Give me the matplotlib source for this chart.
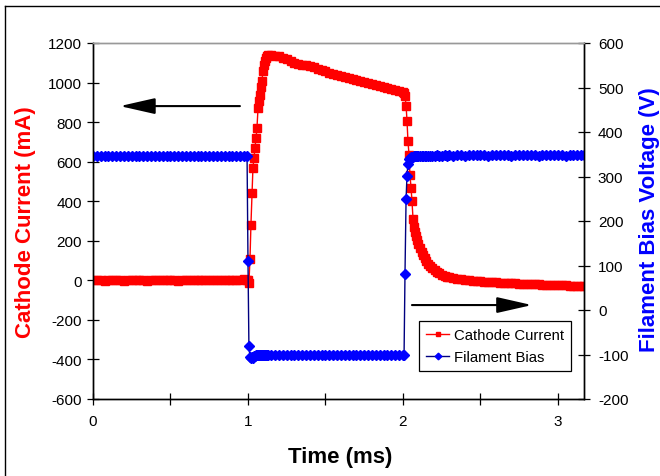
import matplotlib
matplotlib.use("Agg")
import matplotlib.pyplot as plt
from matplotlib.lines import Line2D
from matplotlib.patches import FancyArrowPatch, ArrowStyle

plt.rcParams['font.family'] = ['Liberation Sans', 'DejaVu Sans']
plt.rcParams['axes.unicode_minus'] = False

# shared oscilloscope time base (ms)
time_ms = [
    0.000, 0.025, 0.050, 0.075, 0.100, 0.125, 0.150, 0.175, 0.200, 0.225,
    0.250, 0.275, 0.300, 0.325, 0.350, 0.375, 0.400, 0.425, 0.450, 0.475,
    0.500, 0.525, 0.550, 0.575, 0.600, 0.625, 0.650, 0.675, 0.700, 0.725,
    0.750, 0.775, 0.800, 0.825, 0.850, 0.875, 0.900, 0.925, 0.950, 0.975,
    0.994, 1.000, 1.006, 1.013, 1.019, 1.026, 1.032, 1.039, 1.045, 1.052,
    1.058, 1.065, 1.071, 1.077, 1.084, 1.090, 1.097, 1.103, 1.110, 1.116,
    1.123, 1.129,
    1.150, 1.175, 1.200, 1.225, 1.250, 1.275, 1.300, 1.325, 1.350, 1.375,
    1.400, 1.425, 1.450, 1.475, 1.500, 1.525, 1.550, 1.575, 1.600, 1.625,
    1.650, 1.675, 1.700, 1.725, 1.750, 1.775, 1.800, 1.825, 1.850, 1.875,
    1.900, 1.925, 1.950, 1.975, 2.000,
    2.007, 2.013, 2.020, 2.026, 2.032, 2.039, 2.045, 2.052, 2.058, 2.065,
    2.071, 2.077, 2.084, 2.090,
    2.100, 2.110, 2.120, 2.130, 2.140, 2.150, 2.163, 2.175, 2.190, 2.205,
    2.217, 2.235, 2.250, 2.270, 2.285,
    2.300, 2.325, 2.350, 2.375, 2.400, 2.425, 2.450, 2.475, 2.500, 2.525,
    2.550, 2.575, 2.600, 2.625, 2.650, 2.675, 2.700, 2.725, 2.750, 2.775,
    2.800, 2.825, 2.850, 2.875, 2.900, 2.925, 2.950, 2.975, 3.000, 3.025,
    3.050, 3.075, 3.100, 3.125, 3.150, 3.165,
]

# cathode current (mA), left axis
cathode_current = [
    0, 1, 0, -1, 0, 1, 0, 0, -1, 0,
    1, 0, 0, 1, -1, 0, 0, 1, 0, 0,
    1, 0, -1, 0, 1, 0, 0, 1, 0, 1,
    2, 1, 2, 3, 2, 3, 4, 3, 4, 5,
    3, 2, -15, 110, 280, 440, 570, 620, 670, 720,
    772, 873, 905, 939, 975, 1009, 1060, 1088, 1111, 1125,
    1135, 1141,
    1138, 1136, 1133, 1126, 1118, 1110, 1100, 1093, 1090, 1088,
    1084, 1078, 1071, 1064, 1058, 1050, 1042, 1036, 1031, 1026,
    1021, 1016, 1012, 1007, 1003, 999, 994, 989, 984, 979,
    974, 968, 963, 957, 952,
    945, 933, 883, 807, 706, 635, 534, 468, 402, 310,
    270, 243, 222, 205,
    185, 162, 142, 126, 112, 99, 85, 72, 61, 51,
    44, 35, 29, 22, 18,
    15, 11, 8, 5, 3, 1, -1, -3, -5, -6,
    -8, -9, -10, -12, -13, -14, -15, -16, -17, -18,
    -19, -20, -21, -21, -22, -23, -24, -24, -25, -26,
    -26, -27, -27, -28, -28, -29,
]

# filament bias (V), right axis
filament_bias = [
    346, 345, 346, 347, 346, 345, 346, 346, 347, 346,
    345, 346, 346, 347, 346, 345, 346, 346, 345, 346,
    347, 346, 346, 345, 346, 347, 346, 346, 345, 346,
    346, 347, 346, 345, 346, 346, 347, 346, 346, 345,
    346, 109, -82, -106, -108, -105, -107, -104, -103, -102,
    -101, -102, -101, -100, -101, -102, -101, -101, -100, -101,
    -102, -101,
    -101, -100, -101, -102, -101, -101, -100, -101, -101, -102,
    -101, -100, -101, -101, -100, -101, -102, -101, -101, -100,
    -101, -101, -100, -101, -101, -102, -101, -100, -101, -101,
    -100, -101, -101, -100, -101,
    -101, 81, 250, 302, 328, 339, 341, 343, 344, 344,
    345, 345, 345, 346,
    346, 346, 347, 346, 347, 347, 347, 346, 347, 347,
    348, 347, 347, 348, 347,
    348, 347, 348, 348, 347, 348, 348, 349, 348, 348,
    347, 348, 348, 349, 348, 348, 347, 348, 348, 348,
    349, 348, 348, 347, 348, 348, 349, 348, 348, 348,
    347, 348, 348, 349, 348, 348,
]

x_ticks = [0, 0.5, 1, 1.5, 2, 2.5, 3]
x_tick_labels = ['0', '', '1', '', '2', '', '3']
left_ticks = [-600, -400, -200, 0, 200, 400, 600, 800, 1000, 1200]
right_ticks = [-200, -100, 0, 100, 200, 300, 400, 500, 600]

fig = plt.figure(figsize=(6.6, 4.77), dpi=100)
ax = fig.add_axes([93 / 660, 1 - 400 / 477, 491 / 660, 356 / 477])
ax2 = ax.twinx()

ax.plot(time_ms, cathode_current, color='#FF0000', lw=1.0, marker='s',
        ms=5.2, mfc='#FF0000', mec='#FF0000', label='Cathode Current')
ax2.plot(time_ms, filament_bias, color='#000080', lw=1.0, marker='D',
         ms=5.2, mfc='#0000FF', mec='#0000FF', label='Filament Bias')

ax.set_xlim(0, 3.168)
ax.set_ylim(-600, 1200)
ax2.set_ylim(-200, 600)
ax.set_xticks(x_ticks)
ax.set_xticklabels(x_tick_labels)
ax.set_yticks(left_ticks)
ax2.set_yticks(right_ticks)

for a in (ax, ax2):
    for side in ('left', 'right', 'bottom'):
        a.spines[side].set_color('black')
        a.spines[side].set_linewidth(1.0)
    a.spines['top'].set_color('#999999')
    a.spines['top'].set_linewidth(1.0)
    a.tick_params(direction='inout', length=9, width=0.9, labelsize=11,
                  colors='black')
ax.tick_params(axis='y', pad=3.5)
ax.tick_params(axis='x', pad=6)
ax2.tick_params(axis='y', pad=5.5)

fig.text(26 / 660, 1 - 222 / 477, 'Cathode Current (mA)', rotation=90,
         ha='center', va='center', fontsize=16, fontweight='bold',
         color='#FF0000')
fig.text(649 / 660, 1 - 220 / 477, 'Filament Bias Voltage (V)', rotation=90,
         ha='center', va='center', fontsize=16, fontweight='bold',
         color='#0000FF')
fig.text(340 / 660, 1 - 458 / 477, 'Time (ms)', ha='center', va='center',
         fontsize=16, fontweight='bold', color='black')

# direction arrows (data coords of the left axis)
arrow_style = ArrowStyle('-|>', head_length=21.6, head_width=4.9)
for tail, tip in [((0.948, 881), (0.174, 881)), ((2.058, -125), (2.832, -125))]:
    ax.add_patch(FancyArrowPatch(tail, tip, arrowstyle=arrow_style,
                                 mutation_scale=1, lw=1.5, color='black',
                                 shrinkA=0, shrinkB=0))

handles = ax.get_legend_handles_labels()[0] + ax2.get_legend_handles_labels()[0]
labels = ['Cathode Current', 'Filament Bias']
leg = ax2.legend(handles, labels, loc='lower left',
                 bbox_to_anchor=(0.664, 0.079), borderaxespad=0,
                 fontsize=10.7, frameon=True, fancybox=False, framealpha=1,
                 edgecolor='black', handlelength=1.6, handletextpad=0.3,
                 labelspacing=0.55, borderpad=0.45, markerscale=0.65)
leg.get_frame().set_linewidth(0.9)

# outer chart frame
fig.add_artist(Line2D([5 / 660, 5 / 660], [0, 1 - 7 / 477], color='black',
                      lw=1.0, transform=fig.transFigure))
fig.add_artist(Line2D([5 / 660, 1], [1 - 7 / 477, 1 - 7 / 477], color='black',
                      lw=1.0, transform=fig.transFigure))

fig.savefig('out.png', dpi=100)
